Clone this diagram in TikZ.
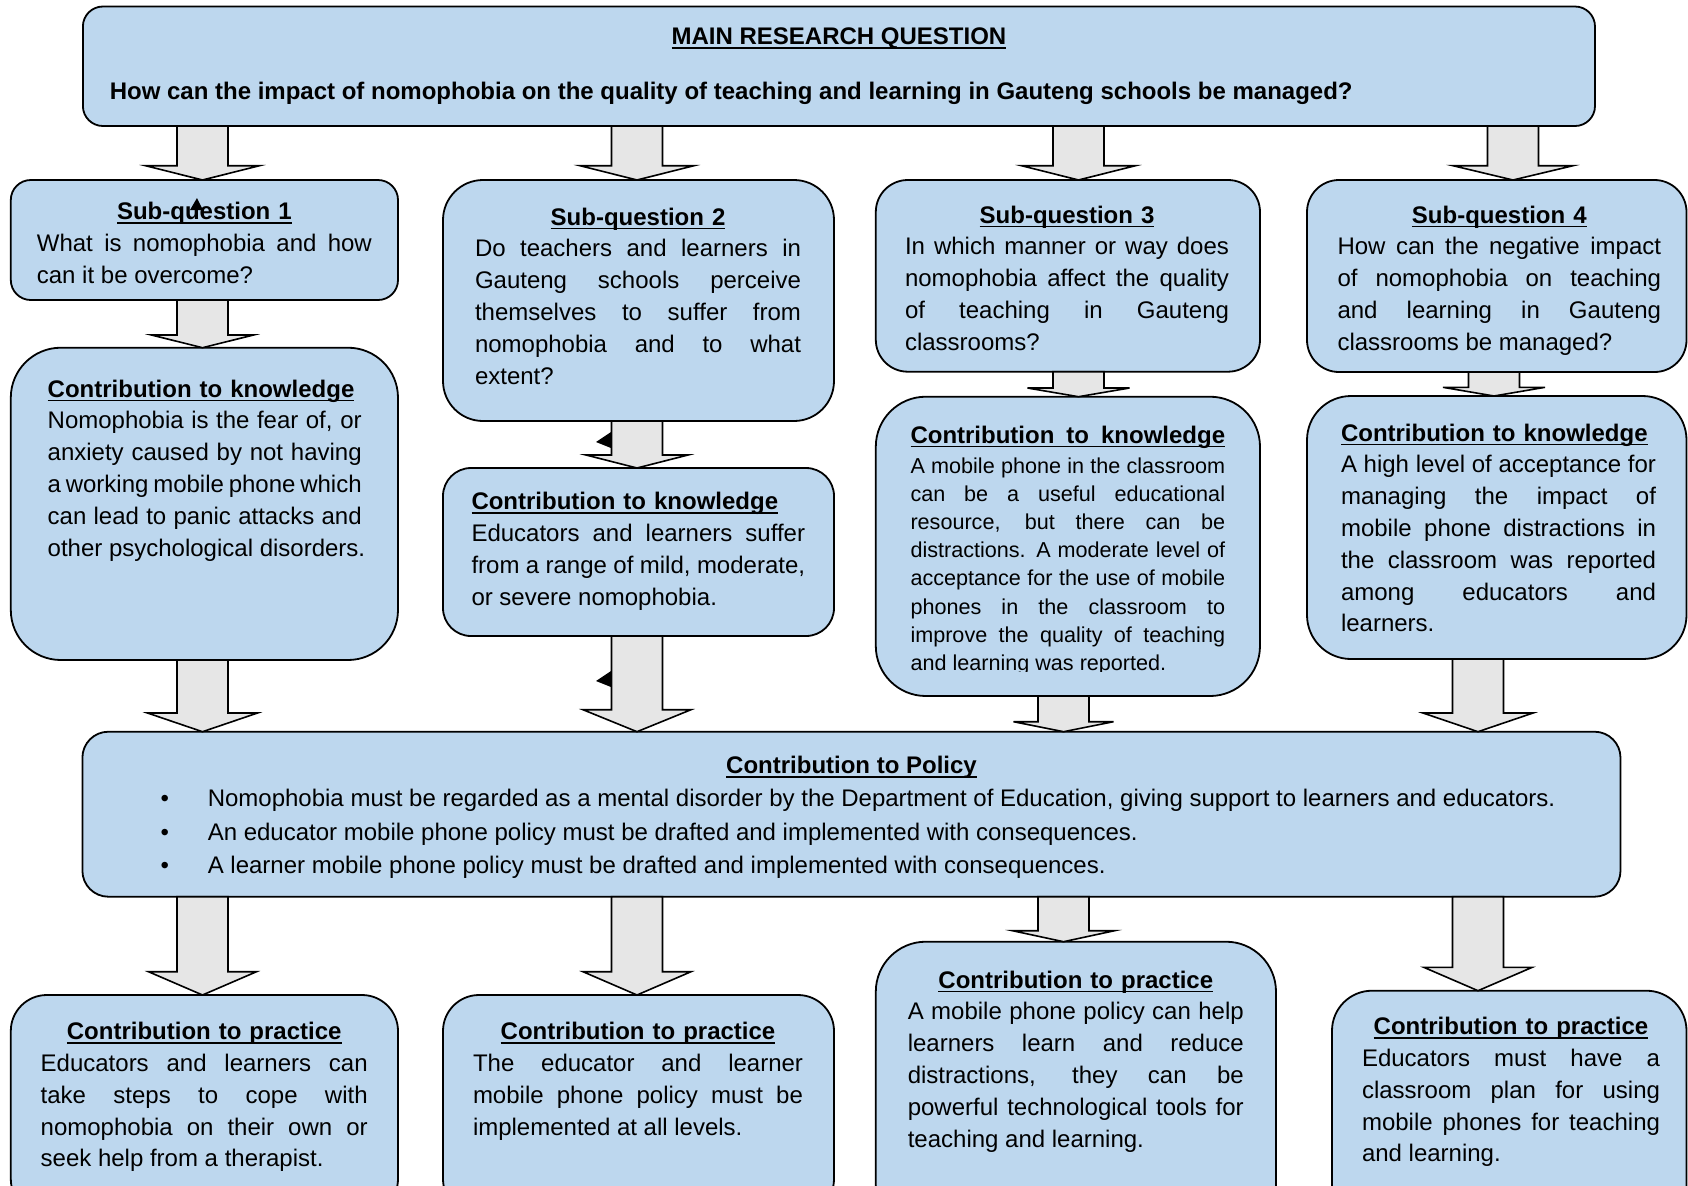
\documentclass[tikz,border=0pt]{standalone}
\usepackage{fontspec}
\setmainfont{Liberation Sans}
\usetikzlibrary{calc,fit}
\definecolor{boxblue}{HTML}{BDD7EE}
\definecolor{arrowgray}{HTML}{E6E6E6}

\newsavebox\ulbox
\newcommand\ttl[1]{\sbox\ulbox{\textbf{#1}}\rlap{\rule[-2.2pt]{\wd\ulbox}{0.9pt}}\usebox\ulbox}
\newcommand\nsp{\spaceskip=0pt\xspaceskip=0pt\relax}
\newcommand\jl[1]{\makebox[\linewidth][s]{\nsp#1}\\}
\newcommand\lst[1]{\mbox{\nsp#1}}
\newcommand\ctl[1]{\makebox[\linewidth]{\ttl{#1}}\\}
\newcommand\bul{\llap{\textbullet\hskip 19.4pt}}
% block arrow: [head half width] x, from node, to node, head length
\newcommand\barrow[5][54]{%
  \path (#2,0 |- #3.south) coordinate (a) (#2,0 |- #4.north) coordinate (b);
  \draw[blockarrow] ($(a)+(-25.5,0)$) -- ($(b)+(-25.5,-#5)$) -- ($(b)+(-#1,-#5)$) -- (b)
    -- ($(b)+(#1,-#5)$) -- ($(b)+(25.5,-#5)$) -- ($(a)+(25.5,0)$) -- cycle;}

\tikzset{
  box/.style={draw, line width=0.9pt, fill=boxblue, inner sep=0pt, outer sep=0pt},
  blockarrow/.style={draw, line width=0.8pt, fill=arrowgray},
  txt/.style={anchor=base west, inner sep=0pt, outer sep=0pt, font=\fontsize{12pt}{15.9pt}\selectfont},
}

\begin{document}
\begin{tikzpicture}[x=0.5pt,y=-0.5pt]
  \path[use as bounding box] (0,0) rectangle (1688,1185);
  \fill[white] (0,0) rectangle (1688,1185);
  \clip (0,0) rectangle (1688,1185);

  % boxes
  \node[box, rounded corners=10pt, fit={(82.9,6.5) (1595,126)}] (main) {};
  \node[box, rounded corners=10pt, fit={(10.8,180) (398,300)}] (sq1) {};
  \node[box, rounded corners=20pt, fit={(443,180) (834,421)}] (sq2) {};
  \node[box, rounded corners=16pt, fit={(875.8,180) (1260,371.7)}] (sq3) {};
  \node[box, rounded corners=16pt, fit={(1307,180) (1686.5,372)}] (sq4) {};
  \node[box, rounded corners=25pt, fit={(10.8,347.7) (398,660)}] (ck1) {};
  \node[box, rounded corners=14pt, fit={(443,468) (834,636)}] (ck2) {};
  \node[box, rounded corners=25pt, fit={(875.8,396.7) (1260,696)}] (ck3) {};
  \node[box, rounded corners=22pt, fit={(1307,396) (1686.5,659)}] (ck4) {};
  \node[box, rounded corners=13pt, fit={(82.4,731.7) (1620.5,896.7)}] (pol) {};
  \node[box, rounded corners=18pt, fit={(10.8,995) (398,1215)}] (pr1) {};
  \node[box, rounded corners=18pt, fit={(443,995) (834,1215)}] (pr2) {};
  \node[box, rounded corners=25pt, fit={(875.8,941.7) (1276,1235)}] (pr3) {};
  \node[box, rounded corners=20pt, fit={(1332,990.7) (1686.5,1225)}] (pr4) {};

  % arrows
  \barrow[57]{202.5}{main}{sq1}{14.3}
  \barrow[57]{637}{main}{sq2}{14.3}
  \barrow[57]{1078.5}{main}{sq3}{14.3}
  \barrow[60]{1513}{main}{sq4}{14.3}
  \barrow[51]{202.5}{sq1}{ck1}{12.7}
  \barrow[51]{637}{sq2}{ck2}{13}
  \barrow[51]{1078.5}{sq3}{ck3}{8.7}
  \barrow[51]{1494}{sq4}{ck4}{8.7}
  \barrow[55]{202.5}{ck1}{pol}{18.7}
  \barrow[54]{637}{ck2}{pol}{22}
  \barrow[50]{1063.5}{ck3}{pol}{10}
  \barrow[55]{1478}{ck4}{pol}{18.7}
  \barrow[54]{202.5}{pol}{pr1}{23.3}
  \barrow[54]{637}{pol}{pr2}{23.3}
  \barrow[51]{1063.5}{pol}{pr3}{11}
  \barrow[54]{1478}{pol}{pr4}{23.3}

  \fill (190,210) -- (197,198) -- (203,210) -- cycle;
  \fill (611,432) -- (596,442) -- (611,448) -- cycle;
  \fill (611,671) -- (596,681) -- (611,687) -- cycle;

  % texts
  \node[txt, anchor=base] (mt) at (839,44.6) {\ttl{MAIN RESEARCH QUESTION}};
  \node[txt, font=\fontsize{12pt}{15.9pt}\selectfont\bfseries] (mq) at (109.8,99.5)
    {How can the impact of nomophobia on the quality of teaching and learning in Gauteng schools be managed?};

  \node[txt, text width=167.5pt] (sq1t) at (36.9,219.7) {\ctl{Sub-question 1}
    \jl{What is nomophobia and how}\lst{can it be overcome?}};
  \node[txt, text width=163pt] (sq2t) at (475,225) {\ctl{Sub-question 2}
    \jl{Do teachers and learners in}\jl{Gauteng schools perceive}\jl{themselves to suffer from}\jl{nomophobia and to what}\lst{extent?}};
  \node[txt, text width=162pt] (sq3t) at (905,223) {\ctl{Sub-question 3}
    \jl{In which manner or way does}\jl{nomophobia affect the quality}\jl{of teaching in Gauteng}\lst{classrooms?}};
  \node[txt, text width=161.8pt] (sq4t) at (1337.5,223) {\ctl{Sub-question 4}
    \jl{How can the negative impact}\jl{of nomophobia on teaching}\jl{and learning in Gauteng}\lst{classrooms be managed?}};

  \node[txt, text width=157pt] (ck1t) at (47.7,397) {\ttl{Contribution to knowledge}\\
    \jl{Nomophobia is the fear of, or}\jl{anxiety caused by not having}\jl{a working mobile phone which}\jl{can lead to panic attacks and}\lst{other psychological disorders.}};
  \node[txt, text width=166.8pt] (ck2t) at (471.5,509.7) {\ttl{Contribution to knowledge}\\
    \jl{Educators and learners suffer}\jl{from a range of mild, moderate,}\lst{or severe nomophobia.}};
  \node[txt, text width=157.3pt] (ck3h) at (910.5,443) {\ttl{\makebox[\linewidth][s]{\nsp Contribution to knowledge}}};
  \begin{scope}
    \clip (870,400) rectangle (1265,671);
    \node[txt, text width=157.3pt, font=\fontsize{10.8pt}{14.1pt}\selectfont] (ck3t) at (910.5,473) {%
      \jl{A mobile phone in the classroom}\jl{can be a useful educational}\jl{resource, but there can be}\jl{distractions. A moderate level of}%
      \jl{acceptance for the use of mobile}\jl{phones in the classroom to}\jl{improve the quality of teaching}\lst{and learning was reported.}};
  \end{scope}
  \node[txt, text width=157.5pt] (ck4t) at (1341,441) {\ttl{Contribution to knowledge}\\
    \jl{A high level of acceptance for}\jl{managing the impact of}\jl{mobile phone distractions in}\jl{the classroom was reported}\jl{among educators and}\lst{learners.}};

  \node[txt, anchor=base] (pt) at (851.5,773.4) {\ttl{Contribution to Policy}};
  \node[txt] (pl1) at (207.8,806.8)
    {\bul Nomophobia must be regarded as a mental disorder by the Department of Education, giving support to learners and educators.};
  \node[txt] (pl2) at (207.8,840) {\bul An educator mobile phone policy must be drafted and implemented with consequences.};
  \node[txt] (pl3) at (207.8,873.5) {\bul A learner mobile phone policy must be drafted and implemented with consequences.};

  \node[txt, text width=163.5pt] (pr1t) at (40.7,1039.7) {\ctl{Contribution to practice}
    \jl{Educators and learners can}\jl{take steps to cope with}\jl{nomophobia on their own or}\lst{seek help from a therapist.}};
  \node[txt, text width=165pt] (pr2t) at (473,1039.7) {\ctl{Contribution to practice}
    \jl{The educator and learner}\jl{mobile phone policy must be}\lst{implemented at all levels.}};
  \node[txt, text width=168pt] (pr3t) at (907.8,988) {\ctl{Contribution to practice}
    \jl{A mobile phone policy can help}\jl{learners learn and reduce}\jl{distractions, they can be}\jl{powerful technological tools for}\lst{teaching and learning.}};
  \node[txt, text width=149pt] (pr4t) at (1362,1034.7) {\ctl{Contribution to practice}
    \jl{Educators must have a}\jl{classroom plan for using}\jl{mobile phones for teaching}\lst{and learning.}};
\end{tikzpicture}
\end{document}
